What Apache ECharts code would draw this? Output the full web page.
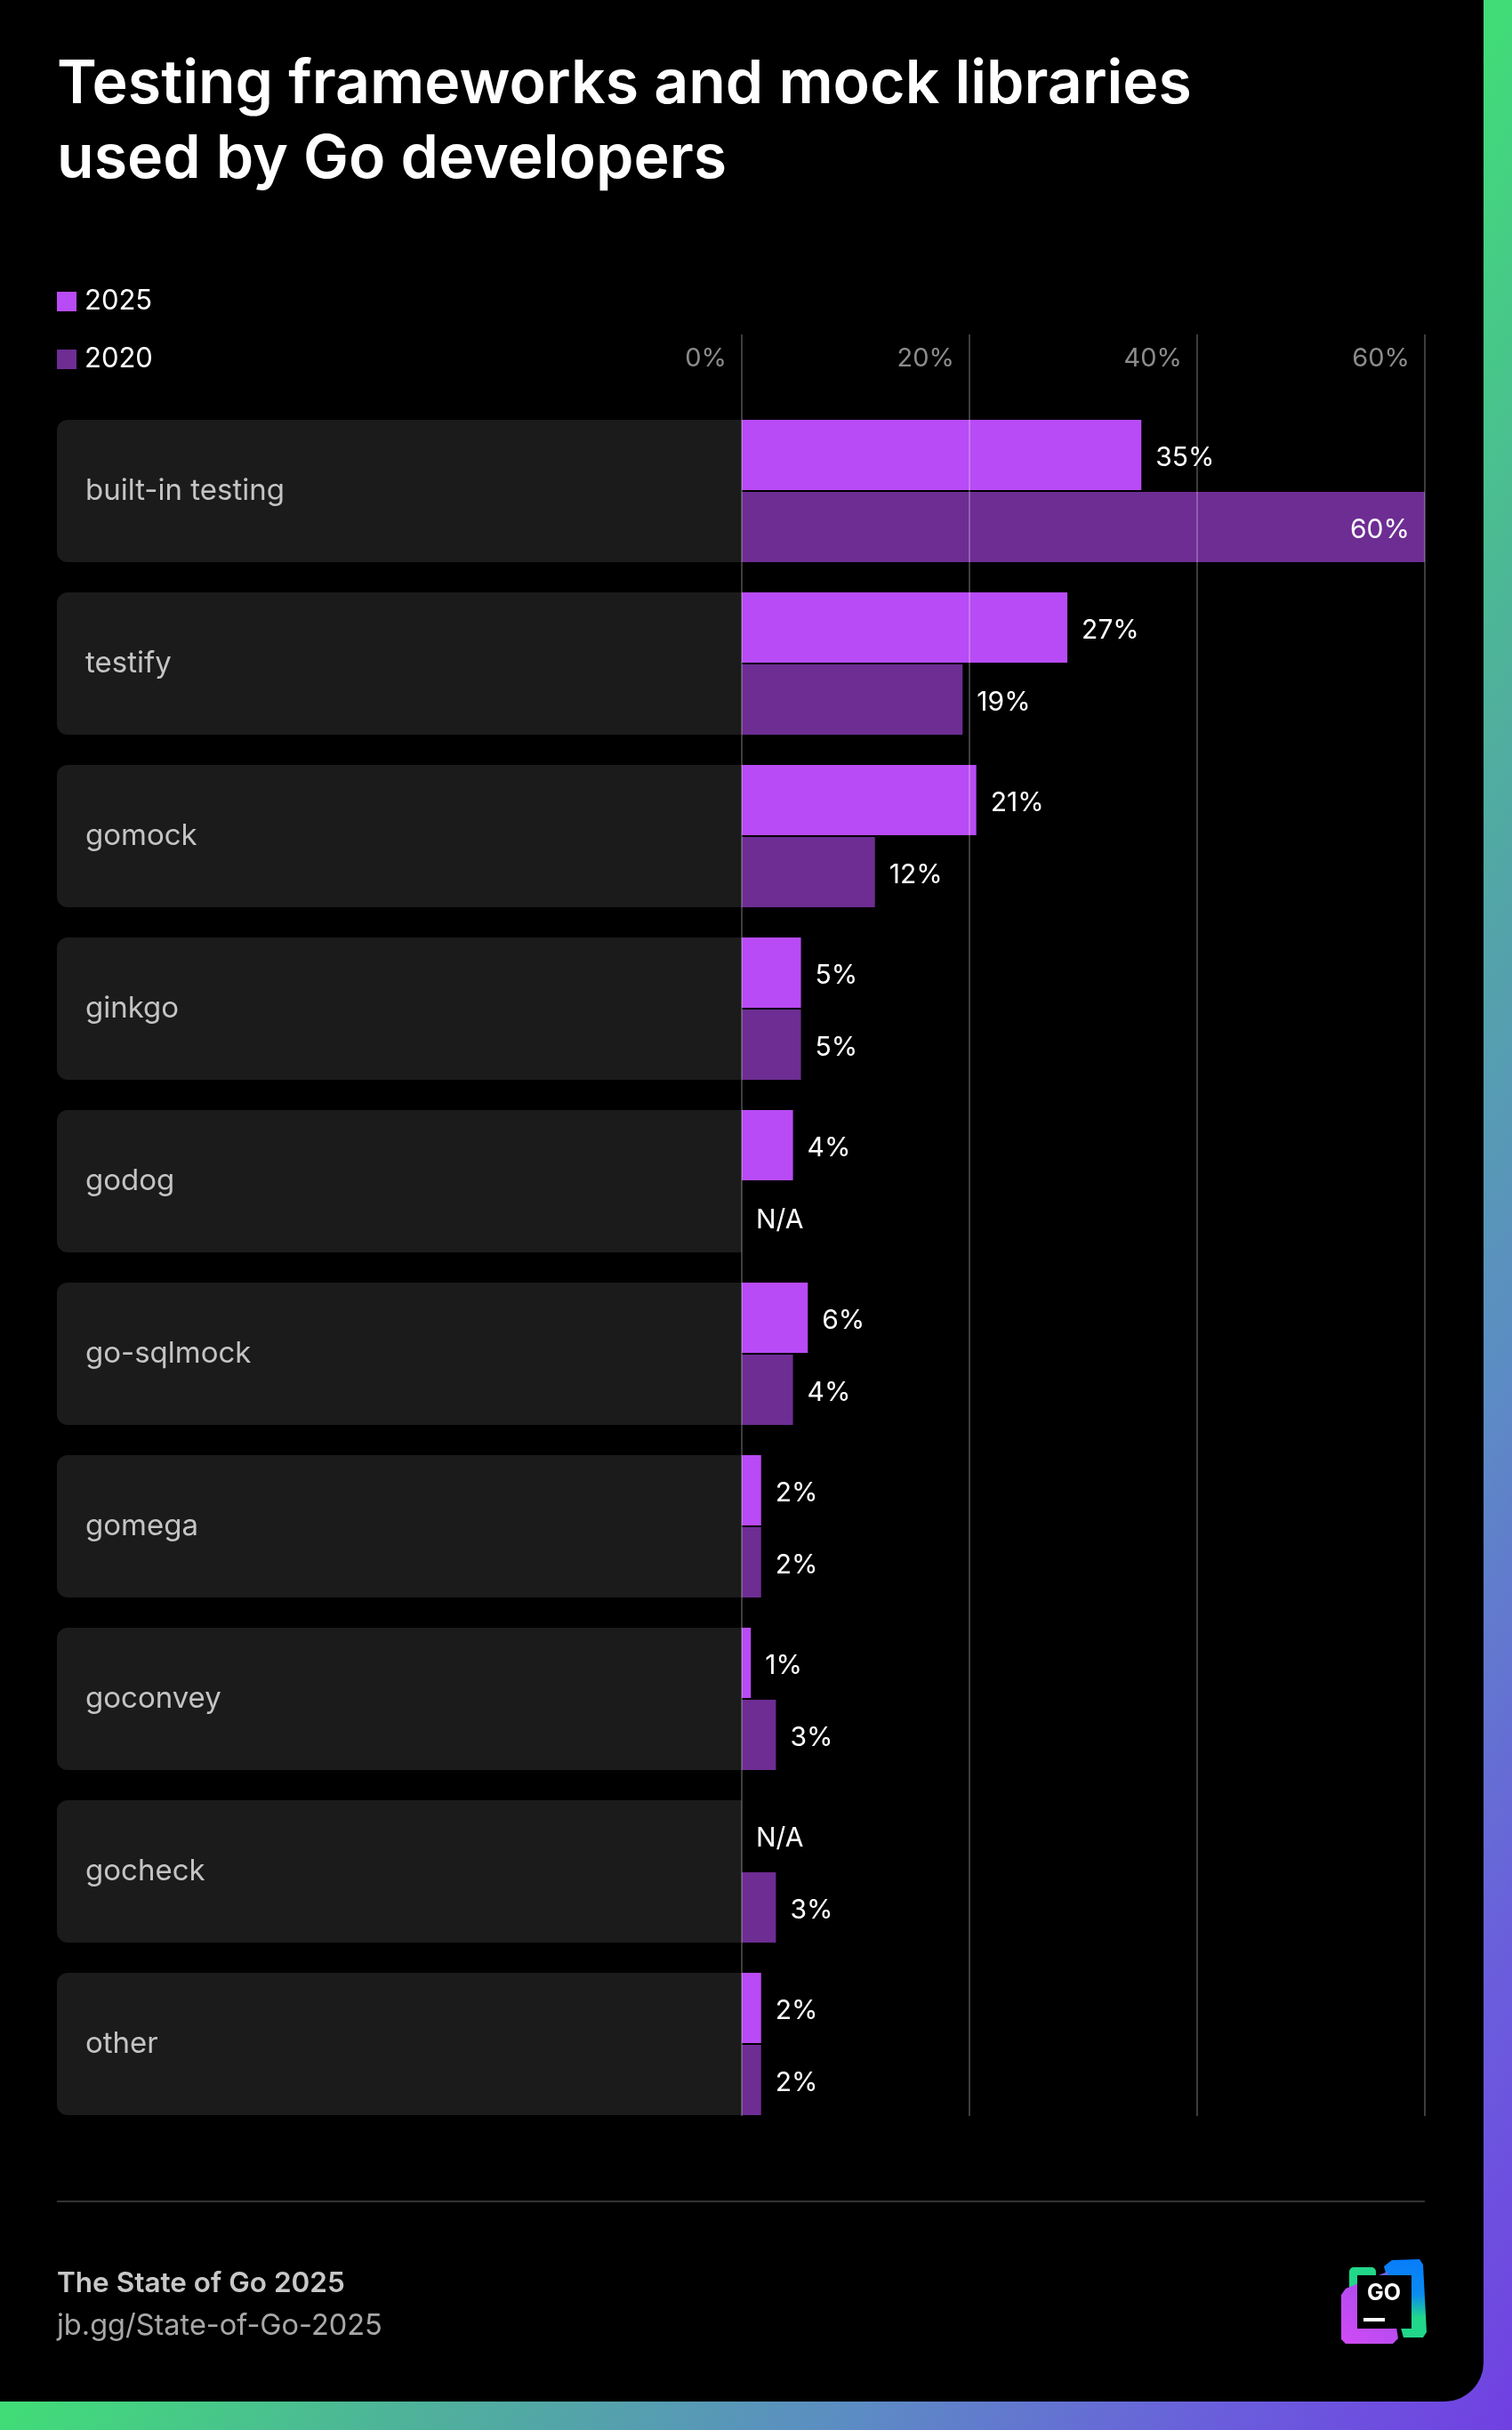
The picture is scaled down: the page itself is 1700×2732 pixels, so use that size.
<!DOCTYPE html>
<html><head><meta charset="utf-8">
<script src="https://cdn.jsdelivr.net/npm/echarts@6/dist/echarts.min.js"></script>
<style>
html,body{margin:0;padding:0;width:1700px;height:2732px;overflow:hidden;}
body{background:linear-gradient(to bottom right,#41dc78 0%,#41dc78 50%,#4fb09c 64%,#5c8cc4 78%,#6a5edc 90%,#7140e2 100%);}
#panel{position:absolute;left:0;top:0;width:1668px;height:2700px;background:#000;border-bottom-right-radius:44px;}
#chart{position:absolute;left:0;top:0;width:1700px;height:2732px;}
</style></head><body><div id="panel"></div><div id="chart"></div>
<script>
// ---- data ----
const categories = ['built-in testing','testify','gomock','ginkgo','godog','go-sqlmock','gomega','goconvey','gocheck','other'];
const values2025 = [35.1, 28.6, 20.6, 5.2, 4.5, 5.8, 1.7, 0.8, null, 1.7];
const values2020 = [60, 19.4, 11.7, 5.2, null, 4.5, 1.7, 3.0, 3.0, 1.7];
const labels2025 = ['35%','27%','21%','5%','4%','6%','2%','1%','N/A','2%'];
const labels2020 = ['60%','19%','12%','5%','N/A','4%','2%','3%','3%','2%'];
const axisMax = 60;
const axisInterval = 20;

const FONT = 'Inter, "Noto Sans", sans-serif';
function buildData(vals, labels){
  return vals.map((v,i)=>{
    const item = {value: v===null ? 0 : v, labelText: labels[i]};
    if (v!==null && v >= axisMax*0.9) item.label = {position:'insideRight', distance:17};
    return item;
  });
}
const labelStyle = {show:true, position:'right', distance:16, offset:[0,3], color:'#ffffff', fontSize:30, fontFamily:FONT, formatter:p=>p.data.labelText};

const chart = echarts.init(document.getElementById('chart'), null, {renderer:'canvas'});
chart.setOption({
  backgroundColor:'transparent',
  animation:false,
  title:{text:'Testing frameworks and mock libraries\nused by Go developers', left:64, top:54, padding:0,
    textStyle:{color:'#ffffff', fontSize:68, fontWeight:600, lineHeight:84, fontFamily:FONT}},
  legend:{orient:'vertical', left:64, top:321, padding:0, icon:'rect', itemWidth:22, itemHeight:22, itemGap:29,
    textStyle:{color:'#ffffff', fontSize:31, lineHeight:36, fontFamily:FONT, padding:[0,0,0,4]},
    data:['2025','2020']},
  grid:[
    {left:834, right:98, top:455, height:1940},
    {left:834, right:98, top:376, bottom:2732-2379}
  ],
  xAxis:[
    {gridIndex:0, type:'value', min:0, max:axisMax, interval:axisInterval, show:false},
    {gridIndex:1, type:'value', min:0, max:axisMax, interval:axisInterval, position:'top', z:5,
      axisLine:{show:false}, axisTick:{show:false},
      splitLine:{show:true, lineStyle:{color:'rgba(255,255,255,0.24)', width:2}},
      axisLabel:{inside:true, margin:11, align:'right', padding:[0,17,0,0], color:'#8c8c8c', fontSize:29, lineHeight:32, fontFamily:FONT, formatter:v=>v+'%'}}
  ],
  yAxis:[
    {gridIndex:0, type:'category', data:categories, inverse:true,
      axisLine:{show:false}, axisTick:{show:false}, splitLine:{show:false},
      axisLabel:{interval:0, margin:770, align:'left', verticalAlign:'middle', width:738, height:140, lineHeight:140,
        padding:[20,0,0,32], backgroundColor:'#1b1b1b', borderRadius:[12,0,0,12],
        color:'#c4c4c4', fontSize:33, fontFamily:FONT}},
    {gridIndex:1, type:'value', show:false}
  ],
  series:[
    {name:'2025', type:'bar', xAxisIndex:0, yAxisIndex:0, data:buildData(values2025, labels2025),
      barWidth:79, barGap:'2.5%', itemStyle:{color:'#B84BF6'}, label:labelStyle},
    {name:'2020', type:'bar', xAxisIndex:0, yAxisIndex:0, data:buildData(values2020, labels2020),
      barWidth:79, barGap:'2.5%', itemStyle:{color:'#6D2D93'}, label:labelStyle}
  ],
  graphic:[
    {type:'rect', shape:{x:64, y:2474, width:1538, height:2}, style:{fill:'#333333'}},
    {type:'text', x:64, y:2552, style:{text:'The State of Go 2025', fill:'#c8c8c8', font:'600 31.5px Inter', textVerticalAlign:'top'}},
    {type:'text', x:64, y:2599, style:{text:'jb.gg/State-of-Go-2025', fill:'#a8a8a8', font:'32.5px Inter', textVerticalAlign:'top'}},
    {type:'group', children:[
      {type:'rect', shape:{x:1517, y:2549, width:30, height:42, r:5}, style:{fill:'#21D789'}},
      {type:'polygon', shape:{points:[[1556,2548],[1565,2541],[1596,2540],[1600,2546],[1604,2622],[1600,2628],[1578,2628]]},
        style:{fill:new echarts.graphic.LinearGradient(0,0,0,1,[{offset:0,color:'#087CFA'},{offset:0.45,color:'#0a8cf0'},{offset:0.75,color:'#21D789'},{offset:1,color:'#21D789'}])}},
      {type:'polygon', shape:{points:[[1508,2580],[1513,2573],[1560,2554],[1572,2629],[1566,2635],[1513,2635],[1508,2630]]},
        style:{fill:new echarts.graphic.LinearGradient(0,1,1,0,[{offset:0,color:'#D24BF5'},{offset:0.55,color:'#b44cf0'},{offset:1,color:'#5a6cf5'}])}},
      {type:'rect', shape:{x:1526, y:2558, width:61, height:60}, style:{fill:'#000000'}},
      {type:'text', x:1556, y:2578, style:{text:'GO', fill:'#ffffff', font:'bold 25px Inter', textAlign:'center', textVerticalAlign:'middle'}},
      {type:'rect', shape:{x:1533, y:2606, width:24, height:4}, style:{fill:'#ffffff'}}
    ]}
  ]
});
</script>
</body></html>
